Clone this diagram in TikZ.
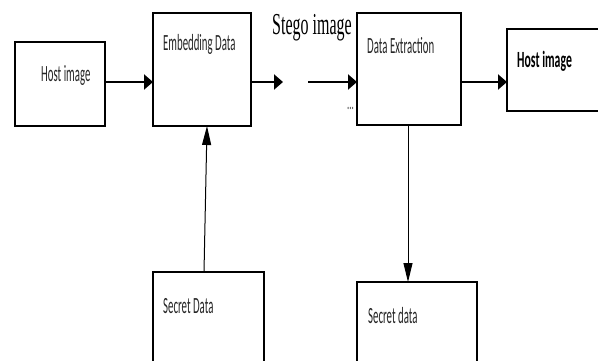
\documentclass[tikz,border=0pt]{standalone}
\usepackage{fontspec}
\setmainfont{Carlito}
\newfontfamily\timesf{Liberation Serif}
\usetikzlibrary{arrows.meta}
\newcommand\sqz[2][1]{\scalebox{#1}[2.15]{#2}}
\begin{document}
\begin{tikzpicture}[x=1pt,y=-1pt,
  box/.style={draw, line width=1.1pt, inner sep=0pt, outer sep=0pt},
  edge/.style={line width=2.4pt},
  lbl/.style={anchor=base west, inner sep=0pt, text=black!85, font=\fontsize{10.8}{12}\selectfont},
  harrow/.style={line width=2.2pt, -{Triangle[length=9pt,width=15pt]}},
  varrow/.style={line width=1pt, -{Triangle[length=19pt,width=9pt]}}]
\useasboundingbox (0,0) rectangle (598,361);
\clip (0,0) rectangle (598,361);
% boxes
\node[box, minimum width=90pt, minimum height=84pt] (h1) at (60,84) {};
\node[box, minimum width=98pt, minimum height=113pt] (emb) at (202,69.5) {};
\node[box, minimum width=104pt, minimum height=112pt] (ext) at (409,69) {};
\node[box, minimum width=113pt, minimum height=82pt] (h2) at (563.5,70) {};
\node[box, minimum width=111pt, minimum height=108pt] (sd1) at (208.5,326) {};
\node[box, minimum width=120pt, minimum height=98pt] (sd2) at (417,331) {};
\foreach \n in {h1,emb,ext,h2,sd1,sd2}
  \draw[edge] (\n.north west) -- (\n.north east) (\n.south west) -- (\n.south east);
% labels
\node[lbl] (t1) at ([xshift=26pt,yshift=-40pt]h1.north west) {\sqz{Host image}};
\node[lbl] (t2) at ([xshift=10pt,yshift=-38pt]emb.north west) {\sqz{Embedding Data}};
\node[lbl] (t3) at ([xshift=10pt,yshift=-41pt]ext.north west) {\sqz{Data Extraction}};
\node[lbl, text=black] (t4) at ([xshift=10pt,yshift=-39pt]h2.north west) {\sqz[1.09]{\bfseries Host image}};
\node[lbl] (t5) at ([xshift=10pt,yshift=-41pt]sd1.north west) {\sqz{Secret Data}};
\node[lbl] (t6) at ([xshift=11pt,yshift=-41pt]sd2.north west) {\sqz{Secret data}};
\node[anchor=base west, inner sep=0pt, font=\timesf\fontsize{16}{18}\selectfont] (stego) at (272,35) {\scalebox{1}[1.9]{Stego image}};
\node[anchor=base west, inner sep=0pt, text=black!70, font=\fontsize{9}{10}\selectfont] (dots) at (347,110) {\scalebox{1}[2.2]{...}};
% connectors
\coordinate (s1) at (283,82);
\coordinate (s2) at (308,82);
\draw[harrow] (h1.east |- s1) -- (emb.west |- s1);
\draw[harrow] (emb.east |- s1) -- (s1);
\draw[harrow] (s2) -- (ext.west |- s1);
\draw[harrow] (ext.east |- s1) -- (h2.west |- s1);
\draw[varrow] ([xshift=-4.5pt]sd1.north) -- ([xshift=5pt]emb.south);
\draw[varrow] ([xshift=-1pt]ext.south) -- ([xshift=-1pt]ext.south |- sd2.north);
\end{tikzpicture}
\end{document}
